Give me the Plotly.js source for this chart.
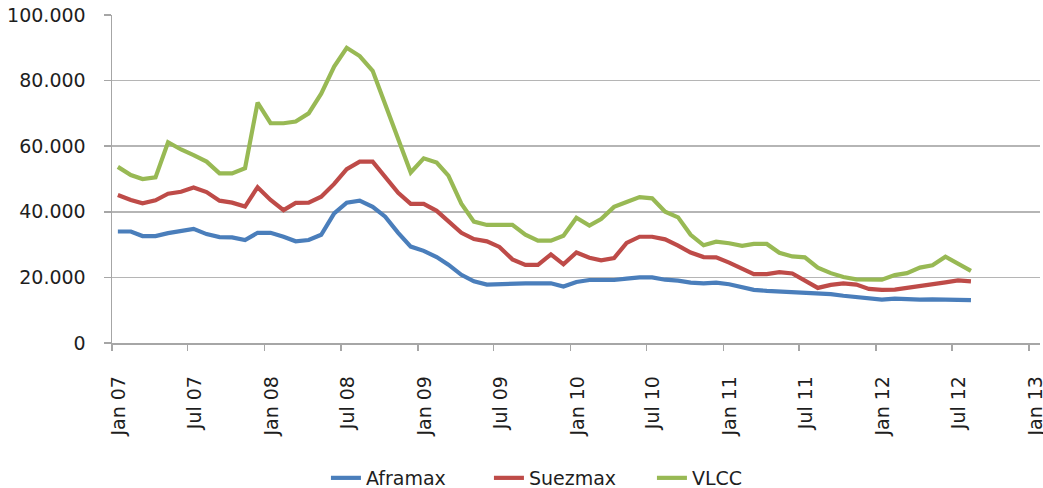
<!DOCTYPE html>
<html>
<head>
<meta charset="utf-8">
<script src="https://cdn.plot.ly/plotly-3.0.1.min.js"></script>
<style>
  html, body { margin: 0; padding: 0; background: #ffffff; }
  #chart { width: 1043px; height: 488px; }
</style>
</head>
<body>
<div id="chart"></div>
<script>
// Monthly observations, Jan 2007 – Aug 2012 (plotted mid-month)
const firstYear = 2007, firstMonth = 1, monthCount = 68;
const months = [];
for (let i = 0; i < monthCount; i++) {
  const m = (firstMonth - 1 + i) % 12 + 1;
  const y = firstYear + Math.floor((firstMonth - 1 + i) / 12);
  months.push(y + '-' + String(m).padStart(2, '0') + '-15');
}

const aframax = [
  34000, 34000, 32600, 32600, 33500, 34200, 34800, 33200, 32300, 32200, 31400, 33600,
  33600, 32400, 31000, 31400, 33000, 39500, 42800, 43400, 41500, 38500, 33600, 29400,
  28100, 26200, 23900, 20800, 18800, 17800, 18000, 18100, 18200, 18200, 18200, 17200,
  18600, 19200, 19200, 19200, 19600, 20000, 20000, 19300, 19000, 18400, 18200, 18400,
  17900, 17000, 16200, 15900, 15700, 15600, 15600, 15300, 14900, 14400, 14000, 13400,
  13200, 13500, 13300, 13200, 13300, 13300, 13200, 13100
];
const suezmax = [
  45100, 43600, 42600, 43500, 45500, 46100, 47400, 46000, 43400, 42800, 41600, 47500,
  43600, 40500, 42700, 42800, 44600, 48500, 53000, 55300, 55300, 50800, 45800, 42400,
  42400, 40300, 37000, 33600, 31700, 31000, 29300, 25500, 23800, 23800, 27000, 24000,
  27600, 26000, 25200, 25900, 30500, 32400, 32400, 31600, 29700, 27600, 26200, 26100,
  24500, 22700, 21000, 21000, 21600, 21200, 19100, 16800, 17700, 18200, 17800, 16500,
  16200, 16300, 16800, 17300, 17800, 18500, 19100, 18800
];
const vlcc = [
  53700, 51200, 50000, 50500, 61200, 59000, 57300, 55300, 51700, 51700, 53300, 73300,
  67000, 67000, 67500, 70000, 76000, 84300, 90000, 87500, 83000, 72500, 62000, 52000,
  56300, 55000, 51000, 42500, 37000, 36000, 36000, 36000, 33000, 31200, 31200, 32700,
  38200, 35800, 37800, 41500, 43000, 44500, 44100, 40000, 38300, 33000, 29800, 30900,
  30400, 29600, 30200, 30200, 27500, 26400, 26100, 23000, 21300, 20100, 19400, 19200,
  19300, 20700, 21300, 23000, 23700, 26300, 24300, 22000
];

const seriesNames = ['Aframax', 'Suezmax', 'VLCC'];
const seriesColors = ['#4a7ebb', '#be4b48', '#98b954'];

const xTickVals = ['2007-01-01','2007-07-01','2008-01-01','2008-07-01','2009-01-01','2009-07-01',
                   '2010-01-01','2010-07-01','2011-01-01','2011-07-01','2012-01-01','2012-07-01','2013-01-01'];
const xTickText = ['Jan 07','Jul 07','Jan 08','Jul 08','Jan 09','Jul 09',
                   'Jan 10','Jul 10','Jan 11','Jul 11','Jan 12','Jul 12','Jan 13'];
const yTickVals = [0, 20000, 40000, 60000, 80000, 100000];
const yTickText = ['0', '20.000', '40.000', '60.000', '80.000', '100.000'];

const values = [aframax, suezmax, vlcc];
const traces = values.map((v, k) => ({
  type: 'scatter',
  mode: 'lines',
  name: seriesNames[k],
  x: months,
  y: v,
  line: { color: seriesColors[k], width: 4.2 }
}));

const font = { family: 'DejaVu Sans, sans-serif', size: 19, color: '#1e1e1e' };

const layout = {
  width: 1043,
  height: 488,
  margin: { l: 112, r: 3, t: 15, b: 145, autoexpand: false },
  paper_bgcolor: '#ffffff',
  plot_bgcolor: '#ffffff',
  font: font,
  showlegend: true,
  legend: {
    orientation: 'h',
    xref: 'container', yref: 'paper',
    x: 0.3125, xanchor: 'left',
    y: -0.4116, yanchor: 'middle',
    font: font,
    itemwidth: 30,
    entrywidth: 118,
    entrywidthmode: 'pixels',
    tracegroupgap: 0
  },
  xaxis: {
    type: 'date',
    range: ['2007-01-01', '2013-01-27'],
    tickmode: 'array',
    tickvals: xTickVals,
    ticktext: xTickText,
    tickangle: -90,
    ticks: 'outside',
    ticklen: 6,
    tickwidth: 1.5,
    tickcolor: '#a6a6a6',
    ticklabelstandoff: 18,
    ticklabelshift: 7,
    ticklabeloverflow: 'allow',
    automargin: false,
    showgrid: false,
    showline: true,
    linecolor: '#a6a6a6',
    linewidth: 1.5,
    zeroline: false,
    tickfont: font,
    fixedrange: true
  },
  yaxis: {
    range: [0, 100000],
    tickmode: 'array',
    tickvals: yTickVals,
    ticktext: yTickText,
    ticks: 'outside',
    ticklen: 7,
    tickwidth: 1.5,
    tickcolor: '#a6a6a6',
    ticklabelstandoff: 14,
    automargin: false,
    showgrid: true,
    gridcolor: '#b5b5b5',
    gridwidth: 1.5,
    showline: true,
    linecolor: '#a6a6a6',
    linewidth: 1.5,
    zeroline: false,
    tickfont: font,
    fixedrange: true
  }
};

Plotly.newPlot('chart', traces, layout, { displayModeBar: false, staticPlot: true });
</script>
</body>
</html>
